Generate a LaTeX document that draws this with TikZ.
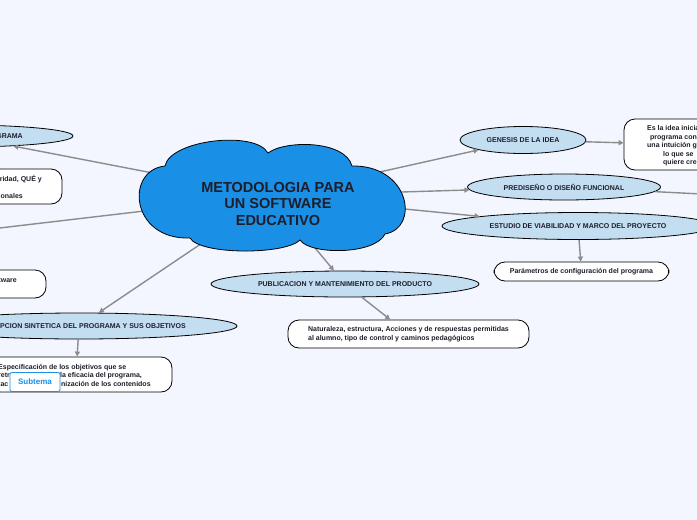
\documentclass[tikz,border=0pt]{standalone}
\usepackage{fontspec}
\setmainfont{Liberation Sans}
\usepackage{tikz}
\usetikzlibrary{arrows.meta,shapes,positioning}
\definecolor{paper}{HTML}{F3F6FE}
\definecolor{cloudblue}{HTML}{1A8FE6}
\definecolor{topicblue}{HTML}{C3DDF1}
\definecolor{linkgray}{HTML}{8C8C8C}
\definecolor{ink}{HTML}{1E1E2A}

\begin{document}
\begin{tikzpicture}[x=1pt,y=-1pt,font=\bfseries\fontsize{7}{8.5}\selectfont,text=ink]
    \tikzset{topic/.style = {shape=ellipse,draw=black,fill=topicblue,line width=0.8pt,inner sep=0pt}}
    \tikzset{leaf/.style = {shape=rectangle,rounded corners=11pt,draw=black,fill=white,line width=0.8pt,align=left}}
    \tikzset{edge/.style = {draw=linkgray,line width=1.4pt,-{Triangle[length=5pt,width=5pt]}}}
    \tikzset{loose/.style = {draw=linkgray,line width=1.4pt}}
    \fill[paper] (0,0) rectangle (697,520);
    \useasboundingbox (0,0) rectangle (697,520);
    % central idea (its outline is drawn over the edges below)
    \node[shape=ellipse,minimum width=250pt,minimum height=92pt] (0) at (272,196) {};
    % topics
    \node[topic,minimum width=224pt,minimum height=22pt] (1) at (-39,136) {};
    \node[anchor=east,inner sep=0pt] (1t) at (23,136) {GRAMA};
    \node[topic,minimum width=316pt,minimum height=26pt] (2) at (79,326) {};
    \node[anchor=west,inner sep=0pt] (2t) at (0,326) {PCION SINTETICA DEL PROGRAMA Y SUS OBJETIVOS};
    \node[topic,minimum width=268pt,minimum height=26pt] (3) at (345,284) {PUBLICACION Y MANTENIMIENTO DEL PRODUCTO};
    \node[topic,minimum width=126pt,minimum height=27pt] (4) at (523,140) {GENESIS DE LA IDEA};
    \node[topic,minimum width=193pt,minimum height=26pt] (5) at (564,187) {PREDISEÑO O DISEÑO FUNCIONAL};
    \node[topic,minimum width=272pt,minimum height=27pt] (6) at (578,226) {ESTUDIO DE VIABILIDAD Y MARCO DEL PROYECTO};
    % leaves
    \node[leaf,minimum width=244pt,minimum height=35pt] (7) at (-60,186.5) {};
    \node[anchor=east,align=right,inner sep=0pt] (7t) at (42,186.5) {ridad, QUÉ y\\ \mbox{}\\ ionales\hspace*{19pt}};
    \node[leaf,minimum width=212pt,minimum height=28pt] (8) at (-60,284) {};
    \node[anchor=east,inner sep=0pt] (8t) at (17,280.5) {tware};
    \node[leaf,minimum width=192pt,minimum height=35pt] (9) at (76,374.5) {};
    \node[anchor=west,align=left,inner sep=0pt] (9t) at (-2,375)
        {Especificación de los objetivos que se\\ \makebox[62pt][l]{retr}la eficacia del programa,\\ \makebox[63pt][l]{tac}nización de los contenidos};
    \node[leaf,minimum width=241pt,minimum height=28pt] (10) at (408.5,334)
        {Naturaleza, estructura, Acciones y de respuestas permitidas\\ al alumno, tipo de control y caminos pedagógicos};
    \node[leaf,minimum width=175pt,minimum height=19pt] (11) at (581.5,271.5) {Parámetros de configuración del programa};
    \node[leaf,minimum width=116pt,minimum height=51pt] (12) at (682,144.5) {};
    \node[anchor=west,align=left,inner sep=0pt] (12t) at (647,146)
        {Es la idea inicia\\ \hspace*{3pt}programa con\\ una intuición g\\ \hspace*{16pt}lo que se\\ \hspace*{16pt}quiere cre};
    \node[shape=rectangle,rounded corners=2pt,draw=cloudblue,fill=white,line width=0.8pt,text=cloudblue,
          font=\bfseries\fontsize{8}{9.5}\selectfont,minimum width=50pt,minimum height=19pt] (13) at (35,382) {Subtema};
    \coordinate (14) at (-60,235);
    \coordinate (15) at (760,197);
    % edges
    \draw[edge] (0) -- (1);
    \draw[loose] (0) -- (14);
    \draw[edge] (0) -- (2);
    \draw[edge] (0) -- (3);
    \draw[edge] (0) -- (4);
    \draw[edge] (0) -- (5);
    \draw[edge] (0) -- (6);
    \draw[edge] (4) -- (12);
    \draw[loose] (5) -- (15);
    \draw[edge] (6) -- (11);
    \draw[edge] (3) -- (10);
    \draw[edge] (2) -- (9);
    % cloud
    \draw[fill=cloudblue,line width=0.8pt] (165,166)
        .. controls (170,140) and (255,130) .. (268,153)
        .. controls (285,140) and (345,140) .. (352,166)
        .. controls (410,165) and (420,228) .. (385,234)
        .. controls (375,255) and (310,255) .. (300,240)
        .. controls (285,255) and (200,255) .. (190,238)
        .. controls (130,240) and (125,170) .. (165,166) -- cycle;
    \node[align=center,font=\bfseries\fontsize{14.5}{16.5}\selectfont] (0t) at (278,204)
        {METODOLOGIA PARA\\ UN SOFTWARE\\ EDUCATIVO};
\end{tikzpicture}
\end{document}
